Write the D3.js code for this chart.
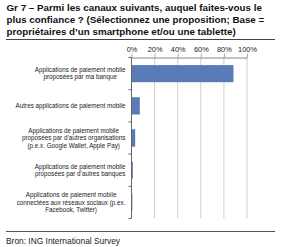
<!DOCTYPE html>
<html>
<head>
<meta charset="utf-8">
<script src="https://cdn.jsdelivr.net/npm/d3@7"></script>
<style>
  body { margin: 0; background: #fff; }
  text { font-family: "Liberation Sans", Arial, sans-serif; }
</style>
</head>
<body>
<div class="main"></div>
<script>
// data
var titleLines = [
    'Gr 7 \u2013  Parmi les canaux suivants, auquel faites-vous le',
    'plus confiance ?  (S\u00e9lectionnez une proposition; Base =',
    'propri\u00e9taires d\u2019un smartphone et/ou une tablette)'
];
var categories = [
    ['Applications de paiement mobile', 'propos\u00e9es par ma banque'],
    ['Autres applications de paiement mobile'],
    ['Applications de paiement mobile', 'propos\u00e9es par d\u2019autres organisations', '(p.e.x. Google Wallet, Apple Pay)'],
    ['Applications de paiement mobile', 'propos\u00e9es par d\u2019autres banques'],
    ['Applications de paiement mobile', 'connect\u00e9es aux r\u00e9seaux sociaux (p.ex.', 'Facebook, Twitter)']
];
var values = [0.88, 0.07, 0.03, 0.01, 0.005];
var tickValues = [0, 0.2, 0.4, 0.6, 0.8, 1];
var source = 'Bron: ING International Survey';

var W = 285, H = 247;

var svg = d3.select('.main')
    .append('svg')
    .attr('width', W)
    .attr('height', H);

svg.append('rect')
    .attr('width', W)
    .attr('height', H)
    .style('fill', '#fff');

// title
svg.append('g')
    .selectAll('text')
    .data(titleLines)
    .enter()
    .append('text')
    .attr('x', 6.5)
    .attr('y', function (d, i) { return 11.3 + i * 11.7; })
    .style('font-size', '9.8px')
    .style('font-weight', 'bold')
    .style('fill', '#111')
    .text(function (d) { return d; });

svg.append('line')
    .attr('x1', 6).attr('x2', 275)
    .attr('y1', 39.5).attr('y2', 39.5)
    .style('stroke', '#444')
    .style('stroke-width', 1.2);

// scales
var x = d3.scaleLinear().domain([0, 1]).range([131.5, 247]);
var y = d3.scaleBand()
    .domain(d3.range(categories.length))
    .range([57.5, 218.5])
    .paddingInner(0.48)
    .paddingOuter(0.24);

// gridlines
svg.append('g')
    .selectAll('line')
    .data(tickValues.slice(1))
    .enter()
    .append('line')
    .attr('x1', function (d) { return x(d); })
    .attr('x2', function (d) { return x(d); })
    .attr('y1', 57.5)
    .attr('y2', 218.5)
    .style('stroke', '#cfcfcf')
    .style('stroke-width', 1);

// top axis
var xAxis = d3.axisTop(x)
    .tickValues(tickValues)
    .tickFormat(d3.format('.0%'))
    .tickSizeInner(4)
    .tickSizeOuter(0)
    .tickPadding(1.5);

var gx = svg.append('g')
    .attr('transform', 'translate(0,57.5)')
    .call(xAxis);
gx.select('.domain').style('stroke', '#888');
gx.selectAll('.tick line').style('stroke', '#aaa');
gx.selectAll('.tick text')
    .style('font-family', '"Liberation Sans", Arial, sans-serif')
    .style('font-size', '7.4px')
    .style('fill', '#222');

// bars
svg.append('g')
    .selectAll('.bar')
    .data(values)
    .enter()
    .append('rect')
    .attr('class', 'bar')
    .attr('x', x(0))
    .attr('y', function (d, i) { return y(i); })
    .attr('width', function (d) { return x(d) - x(0); })
    .attr('height', y.bandwidth())
    .style('fill', '#5a7bb8')
    .style('stroke', '#4d6ca8')
    .style('stroke-width', 0.4);

// left axis line and ticks at band edges
var edges = d3.range(categories.length + 1).map(function (i) {
    return 57.5 + i * y.step();
});
svg.append('line')
    .attr('x1', x(0)).attr('x2', x(0))
    .attr('y1', 57.5).attr('y2', 218.5)
    .style('stroke', '#666')
    .style('stroke-width', 1);
svg.append('g')
    .selectAll('line')
    .data(edges)
    .enter()
    .append('line')
    .attr('x1', x(0) - 3)
    .attr('x2', x(0))
    .attr('y1', function (d) { return d; })
    .attr('y2', function (d) { return d; })
    .style('stroke', '#666')
    .style('stroke-width', 1);

// category labels, each block centred, right edge near the axis
var lineH = 7.3;
var labels = svg.append('g')
    .selectAll('.cat')
    .data(categories)
    .enter()
    .append('text')
    .attr('class', 'cat')
    .attr('text-anchor', 'middle')
    .style('font-size', '6.3px')
    .style('fill', '#222');

labels.each(function (lines, i) {
    var t = d3.select(this);
    var cy = y(i) + y.bandwidth() / 2;
    var top = cy - (lines.length - 1) * lineH / 2;
    lines.forEach(function (l, j) {
        t.append('tspan')
            .attr('y', top + j * lineH + 2.2)
            .text(l);
    });
    var maxW = 0;
    t.selectAll('tspan').each(function () {
        maxW = Math.max(maxW, this.getComputedTextLength());
    });
    t.selectAll('tspan').attr('x', 125.5 - maxW / 2);
});

// source
svg.append('line')
    .attr('x1', 6).attr('x2', 275)
    .attr('y1', 231.5).attr('y2', 231.5)
    .style('stroke', '#555')
    .style('stroke-width', 1);

svg.append('text')
    .attr('x', 6)
    .attr('y', 243.5)
    .style('font-size', '8.4px')
    .style('fill', '#222')
    .text(source);
</script>
</body>
</html>
